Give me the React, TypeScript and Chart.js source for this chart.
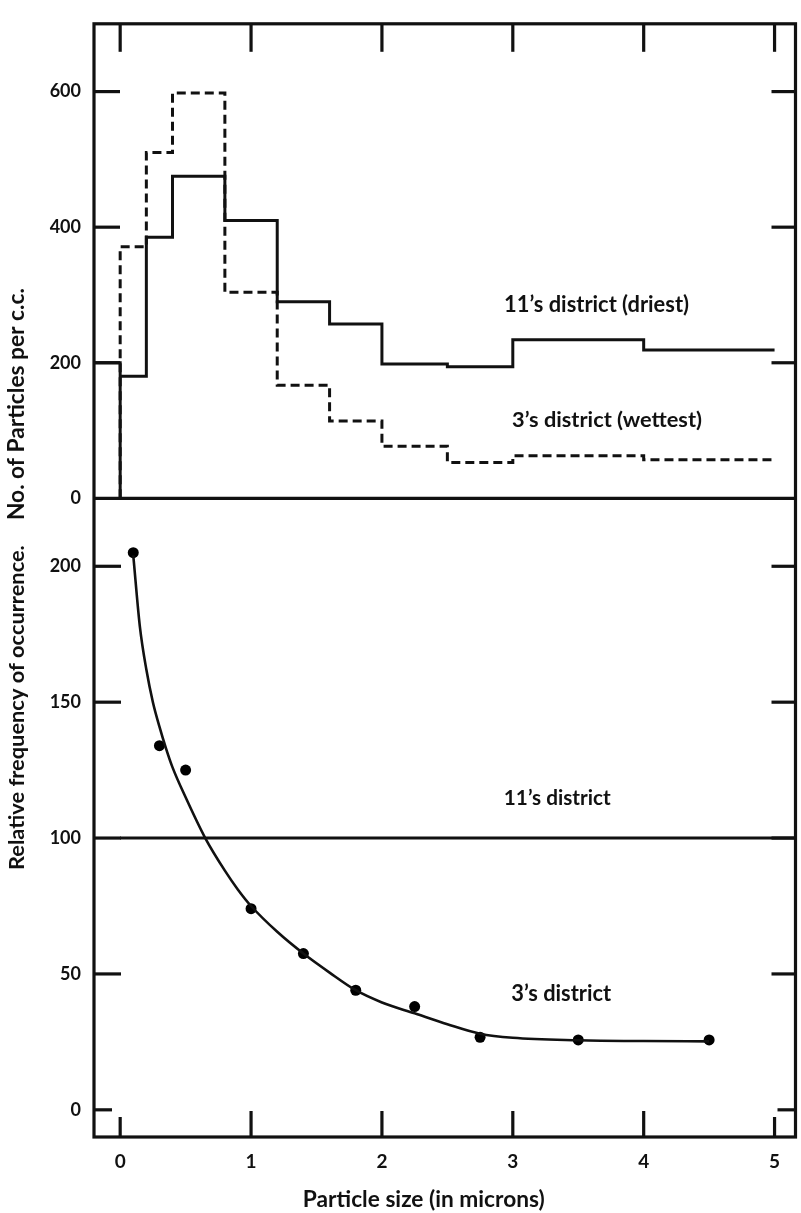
import { useEffect, useRef } from "react";
import { Chart, registerables } from "chart.js";

Chart.register(...registerables);

// ---- axis ticks ----
const X_TICKS = [0, 1, 2, 3, 4, 5];
const TOP_Y_TICKS = [0, 200, 400, 600];
const BOTTOM_Y_TICKS = [0, 50, 100, 150, 200];

// ---- top panel: particle counts per size bin (step histograms) ----
const BIN_EDGES = [0, 0.2, 0.4, 0.8, 1.2, 1.6, 2.0, 2.5, 3.0, 4.0, 5.0];
const DRIEST_COUNTS = [180, 385, 475, 410, 290, 257, 198, 194, 234, 219];
const WETTEST_COUNTS = [371, 510, 598, 304, 167, 114, 77, 53, 63, 57];
const DRIEST_LEAD_X = -0.2;
const DRIEST_LEAD_COUNT = 200;

// ---- bottom panel: relative frequency (3's district vs 11's = 100) ----
const SAMPLE_SIZES = [0.1, 0.3, 0.5, 1.0, 1.4, 1.8, 2.25, 2.75, 3.5, 4.5];
const REL_FREQ_WET = [205, 134, 125, 74, 57.5, 44, 38, 26.7, 25.7, 25.7];
const FIT_SIZES = [0.1, 0.15, 0.2, 0.25, 0.3, 0.35, 0.4, 0.5, 0.65, 0.8, 0.9, 1.0, 1.2, 1.4, 1.6, 1.8, 2.0, 2.25, 2.5, 2.75, 3.0, 3.5, 4.0, 4.5];
const FIT_FREQ = [204, 178, 162, 150, 141, 133, 126, 115, 100, 88, 81, 75, 65.5, 57.5, 50.5, 44, 39.5, 35.5, 31.5, 28, 26.5, 25.6, 25.3, 25.2];
const REFERENCE_LEVEL = 100;

const X_MIN = -0.2;
const X_MAX = 5.16;

const INK = "#111";
const FONT = "Lato, 'Open Sans', sans-serif";

function stepPoints(edges: number[], values: number[], lead?: { x: number; y: number }) {
  const pts: { x: number; y: number }[] = [];
  if (lead) pts.push({ x: lead.x, y: lead.y });
  pts.push({ x: edges[0], y: 0 });
  values.forEach((v, i) => pts.push({ x: edges[i], y: v }));
  pts.push({ x: edges[edges.length - 1], y: values[values.length - 1] });
  return pts;
}

function fitFont(ctx: CanvasRenderingContext2D, text: string, width: number) {
  ctx.font = `bold 100px ${FONT}`;
  const w = ctx.measureText(text).width;
  return (100 * width) / w;
}

function drawText(
  ctx: CanvasRenderingContext2D,
  text: string,
  cx: number,
  cy: number,
  width: number,
  rotate = false
) {
  const size = fitFont(ctx, text, width);
  ctx.save();
  ctx.font = `bold ${size}px ${FONT}`;
  ctx.fillStyle = INK;
  ctx.textAlign = "center";
  ctx.textBaseline = "middle";
  ctx.translate(cx, cy);
  if (rotate) ctx.rotate(-Math.PI / 2);
  ctx.fillText(text, 0, 0);
  ctx.restore();
}

const framePlugin = {
  id: "frameAndText",
  afterDraw(chart: any) {
    const { ctx, chartArea: a, scales } = chart;
    const x = scales.x;
    const yt = scales.yTop;
    const yb = scales.yBot;
    ctx.save();
    ctx.strokeStyle = INK;
    ctx.lineCap = "butt";
    const seg = (x1: number, y1: number, x2: number, y2: number, w = 3.2) => {
      ctx.lineWidth = w;
      ctx.beginPath();
      ctx.moveTo(x1, y1);
      ctx.lineTo(x2, y2);
      ctx.stroke();
    };
    // frame
    ctx.lineWidth = 3.2;
    ctx.strokeRect(a.left, a.top, a.right - a.left, a.bottom - a.top);
    const yDiv = yt.getPixelForValue(0);
    seg(a.left, yDiv, a.right, yDiv, 3.2);
    // inward ticks
    TOP_Y_TICKS.filter((v) => v > 0).forEach((v) => {
      const p = yt.getPixelForValue(v);
      seg(a.left, p, a.left + 26, p);
      seg(a.right - 24, p, a.right, p);
    });
    BOTTOM_Y_TICKS.forEach((v) => {
      const p = yb.getPixelForValue(v);
      seg(a.left, p, a.left + (v === 0 ? 18 : 27), p);
      seg(a.right - (v === 0 ? 18 : 24), p, a.right, p);
    });
    X_TICKS.forEach((v) => {
      const p = x.getPixelForValue(v);
      seg(p, a.top, p, a.top + 28);
      const len = v === 0 || v === X_TICKS[X_TICKS.length - 1] ? 20 : 26;
      seg(p, a.bottom, p, a.bottom - len);
    });
    ctx.restore();

    // annotations
    drawText(ctx, "11’s district (driest)", x.getPixelForValue(3.64), yt.getPixelForValue(286), 185);
    drawText(ctx, "3’s district (wettest)", x.getPixelForValue(3.72), yt.getPixelForValue(115), 190);
    drawText(ctx, "11’s district", x.getPixelForValue(3.34), yb.getPixelForValue(114.5), 107);
    drawText(ctx, "3’s district", x.getPixelForValue(3.37), yb.getPixelForValue(42.5), 100);
    // axis titles
    drawText(ctx, "Particle size (in microns)", x.getPixelForValue(2.32), a.bottom + 63, 242);
    drawText(ctx, "No. of Particles per c.c.", 17, yt.getPixelForValue(139), 232, true);
    drawText(ctx, "Relative frequency of occurrence.", 17, yb.getPixelForValue(148), 325, true);
  },
};

export default function App() {
  const ref = useRef<HTMLCanvasElement | null>(null);

  useEffect(() => {
    if (!ref.current) return;
    const tickFont = (size: number) => ({ family: FONT, size, weight: "bold" as const });
    const chart = new Chart(ref.current, {
      type: "line",
      data: {
        datasets: [
          {
            label: "11's district (driest)",
            data: stepPoints(BIN_EDGES, DRIEST_COUNTS, { x: DRIEST_LEAD_X, y: DRIEST_LEAD_COUNT }),
            yAxisID: "yTop",
            stepped: "before",
            borderColor: INK,
            borderWidth: 3,
            pointRadius: 0,
            fill: false,
          },
          {
            label: "3's district (wettest)",
            data: stepPoints(BIN_EDGES, WETTEST_COUNTS),
            yAxisID: "yTop",
            stepped: "before",
            borderColor: INK,
            borderWidth: 3,
            borderDash: [9, 5],
            pointRadius: 0,
            fill: false,
          },
          {
            label: "11's district",
            data: [
              { x: 0, y: REFERENCE_LEVEL },
              { x: X_MAX, y: REFERENCE_LEVEL },
            ],
            yAxisID: "yBot",
            borderColor: INK,
            borderWidth: 3,
            pointRadius: 0,
            fill: false,
          },
          {
            label: "3's district fit",
            data: FIT_SIZES.map((s, i) => ({ x: s, y: FIT_FREQ[i] })),
            yAxisID: "yBot",
            borderColor: INK,
            borderWidth: 2.6,
            pointRadius: 0,
            cubicInterpolationMode: "monotone",
            fill: false,
          },
          {
            label: "3's district",
            data: SAMPLE_SIZES.map((s, i) => ({ x: s, y: REL_FREQ_WET[i] })),
            yAxisID: "yBot",
            showLine: false,
            pointRadius: 5.5,
            pointBackgroundColor: "#000",
            pointBorderColor: "#000",
            pointBorderWidth: 0,
          },
        ],
      },
      options: {
        animation: false,
        responsive: false,
        devicePixelRatio: 1,
        layout: { padding: { top: 11, right: 2, left: 0, bottom: 0 } },
        plugins: { legend: { display: false }, tooltip: { enabled: false }, title: { display: false } },
        scales: {
          x: {
            type: "linear",
            position: "bottom",
            min: X_MIN,
            max: X_MAX,
            afterBuildTicks: (s: any) => {
              s.ticks = X_TICKS.map((v) => ({ value: v }));
            },
            afterFit: (s: any) => {
              s.height = 76;
            },
            grid: { display: false, drawTicks: false },
            border: { display: false },
            ticks: { padding: 13, color: INK, font: tickFont(19), maxRotation: 0, callback: (v: any) => String(v) },
          },
          yBot: {
            type: "linear",
            position: "left",
            stack: "panels",
            stackWeight: 646,
            min: -10,
            max: 225,
            afterBuildTicks: (s: any) => {
              s.ticks = BOTTOM_Y_TICKS.map((v) => ({ value: v }));
            },
            afterFit: (s: any) => {
              s.width = 94;
            },
            grid: { display: false, drawTicks: false },
            border: { display: false },
            ticks: { padding: 13, color: INK, font: tickFont(18), callback: (v: any) => String(v) },
          },
          yTop: {
            type: "linear",
            position: "left",
            stack: "panels",
            stackWeight: 480,
            min: 0,
            max: 700,
            afterBuildTicks: (s: any) => {
              s.ticks = TOP_Y_TICKS.map((v) => ({ value: v }));
            },
            afterFit: (s: any) => {
              s.width = 94;
            },
            grid: { display: false, drawTicks: false },
            border: { display: false },
            ticks: { padding: 13, color: INK, font: tickFont(18), callback: (v: any) => String(v) },
          },
        },
      },
      plugins: [framePlugin],
    } as any);
    return () => chart.destroy();
  }, []);

  return (
    <div style={{ position: "absolute", left: 0, top: 0, width: 801, height: 1213, background: "#fff" }}>
      <canvas ref={ref} width={801} height={1213} style={{ display: "block" }} />
    </div>
  );
}
